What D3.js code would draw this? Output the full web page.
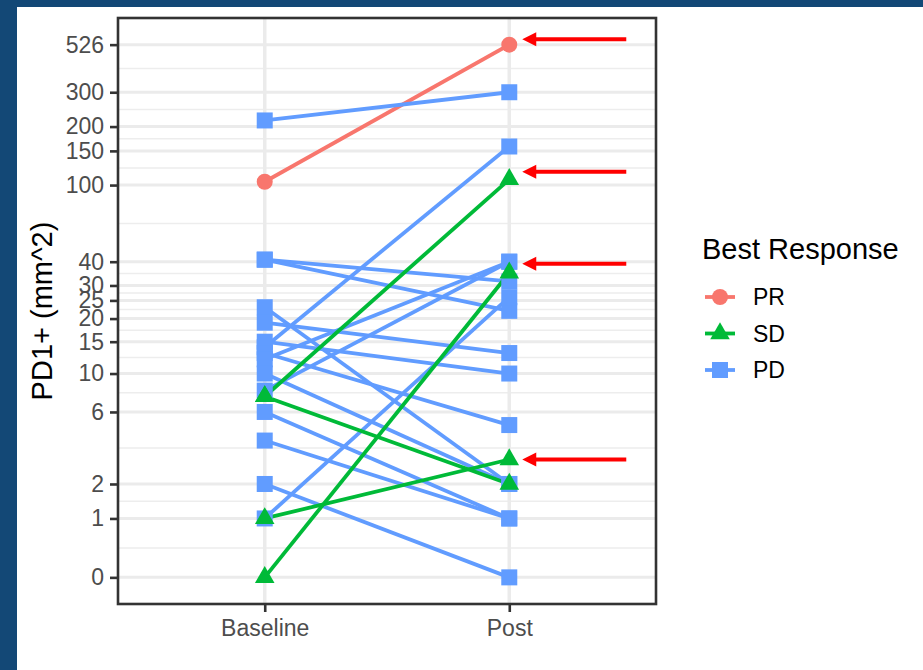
<!DOCTYPE html>
<html>
	<head>
		<meta charset="utf-8">
		<title>PD1+ spaghetti plot</title>
		<style>
			body { margin: 0; background: #134876; }
			svg { display: block; }
			text { font-family: "Liberation Sans", Arial, sans-serif; }
		</style>
	</head>
	<body>
		<div id="chart"></div>

		<script src="https://cdn.jsdelivr.net/npm/d3@7"></script>
		<script>
			// data
			var timepoints = ["Baseline", "Post"];
			var responses = ["PR", "SD", "PD"];
			var responseColors = ["#F8766D", "#00BA38", "#619CFF"];

			var patientResponse = ["PR", "PD", "PD", "PD", "PD", "PD", "PD", "PD", "PD", "PD", "PD", "PD", "PD", "PD", "PD", "PD", "SD", "SD", "SD", "SD"];
			var baselineValues  = [104, 215, 14, 41, 41, 23, 19, 15, 13, 12, 8, 10, 6, 4, 2, 1, 7.4, 7.4, 1, 0];
			var postValues      = [526, 300, 158, 31.5, 22, 2, 13, 10, 5, 40, 40, 2, 1, 1, 0, 26, 107, 2, 3, 35];

			var yTickValues = [0, 1, 2, 6, 10, 15, 20, 25, 30, 40, 100, 150, 200, 300, 526];
			var arrowValues = [561, 117, 39, 3];

			(function(){
				"use strict";

				var W = 923, H = 670,
					left = 118, right = 656, top = 18, bottom = 604;

				var svg = d3.select("#chart").append("svg")
					.attr("width", W)
					.attr("height", H);

				// blue frame + white page
				svg.append("rect")
					.attr("x", 17).attr("y", 7)
					.attr("width", W - 17).attr("height", H - 7)
					.attr("fill", "#ffffff");

				// log10(1 + x) transform, like scale_y_continuous(trans = "log1p") in log10 units
				var t = function(v){ return Math.log10(1 + v); };
				var allValues = baselineValues.concat(postValues);
				var tExt = d3.extent(allValues.map(t));
				var pad = (tExt[1] - tExt[0]) * 0.05;

				var y = d3.scaleLinear()
					.domain([tExt[0] - pad, tExt[1] + pad])
					.range([bottom, top]);
				var yv = function(v){ return y(t(v)); };

				var x = d3.scalePoint()
					.domain(timepoints)
					.range([left, right])
					.padding(0.6);

				var color = d3.scaleOrdinal().domain(responses).range(responseColors);

				// grid
				var tTicks = yTickValues.map(t);
				var minor = [];
				for (var i = 0; i < tTicks.length - 1; i++) minor.push((tTicks[i] + tTicks[i + 1]) / 2);

				var grid = svg.append("g");
				grid.selectAll("line.minor")
					.data(minor)
					.enter().append("line")
						.attr("x1", left).attr("x2", right)
						.attr("y1", function(d){ return y(d); })
						.attr("y2", function(d){ return y(d); })
						.attr("stroke", "#ededed")
						.attr("stroke-width", 1.5);
				grid.selectAll("line.major")
					.data(yTickValues)
					.enter().append("line")
						.attr("x1", left).attr("x2", right)
						.attr("y1", function(d){ return yv(d); })
						.attr("y2", function(d){ return yv(d); })
						.attr("stroke", "#ebebeb")
						.attr("stroke-width", 3);
				grid.selectAll("line.vert")
					.data(timepoints)
					.enter().append("line")
						.attr("x1", function(d){ return x(d); })
						.attr("x2", function(d){ return x(d); })
						.attr("y1", top).attr("y2", bottom)
						.attr("stroke", "#ebebeb")
						.attr("stroke-width", 3.5);

				// patient lines
				var patients = baselineValues.map(function(b, i){
					return { resp: patientResponse[i], values: [b, postValues[i]] };
				});
				var order = ["PR", "PD", "SD"];
				var sorted = order.map(function(r){
					return patients.filter(function(p){ return p.resp === r; });
				});
				sorted = [].concat.apply([], sorted);

				var line = d3.line()
					.x(function(d, i){ return x(timepoints[i]); })
					.y(function(d){ return yv(d); });

				svg.append("g").selectAll("path")
					.data(sorted)
					.enter().append("path")
						.attr("d", function(d){ return line(d.values); })
						.attr("fill", "none")
						.attr("stroke", function(d){ return color(d.resp); })
						.attr("stroke-width", 3.8);

				// point shapes: circle, triangle, square
				function shape(g, resp){
					var c = color(resp);
					if (resp === "PR") {
						g.append("circle").attr("r", 8).attr("fill", c);
					} else if (resp === "SD") {
						var r = 11.3;
						g.append("path")
							.attr("d", "M0," + (-r) + "L" + (0.866 * r) + "," + (r / 2) + "L" + (-0.866 * r) + "," + (r / 2) + "Z")
							.attr("fill", c);
					} else {
						g.append("rect").attr("x", -8).attr("y", -8).attr("width", 16).attr("height", 16).attr("fill", c);
					}
				}

				var pts = svg.append("g");
				sorted.forEach(function(p){
					p.values.forEach(function(v, i){
						var g = pts.append("g")
							.attr("transform", "translate(" + x(timepoints[i]) + "," + yv(v) + ")");
						shape(g, p.resp);
					});
				});

				// panel border
				svg.append("rect")
					.attr("x", left).attr("y", top)
					.attr("width", right - left).attr("height", bottom - top)
					.attr("fill", "none")
					.attr("stroke", "#333333")
					.attr("stroke-width", 2.6);

				// axes
				var yAxis = svg.append("g")
					.attr("transform", "translate(" + left + ",0)")
					.call(d3.axisLeft(y).tickValues(tTicks).tickFormat(function(d, i){ return yTickValues[i]; })
						.tickSize(8).tickPadding(6));
				var xAxis = svg.append("g")
					.attr("transform", "translate(0," + bottom + ")")
					.call(d3.axisBottom(x).tickSize(8).tickPadding(6));

				[yAxis, xAxis].forEach(function(a){
					a.select(".domain").remove();
					a.selectAll(".tick line").attr("stroke", "#333333").attr("stroke-width", 2.6);
					a.selectAll(".tick text")
						.attr("fill", "#4d4d4d")
						.style("font-size", "23px")
						.style("font-family", "'Liberation Sans', Arial, sans-serif");
				});
				xAxis.selectAll(".tick text").attr("dy", "0.8em");

				svg.append("text")
					.attr("transform", "translate(52," + ((top + bottom) / 2) + ") rotate(-90)")
					.attr("text-anchor", "middle")
					.style("font-size", "29px")
					.attr("fill", "#000000")
					.text("PD1+ (mm^2)");

				// red arrows
				var arrows = svg.append("g");
				arrowValues.forEach(function(v){
					var ay = yv(v), tip = x("Post") + 13;
					arrows.append("line")
						.attr("x1", tip + 12).attr("x2", tip + 104)
						.attr("y1", ay).attr("y2", ay)
						.attr("stroke", "#ff0000")
						.attr("stroke-width", 4);
					arrows.append("path")
						.attr("d", "M" + tip + "," + ay + "L" + (tip + 14) + "," + (ay - 7) + "L" + (tip + 14) + "," + (ay + 7) + "Z")
						.attr("fill", "#ff0000");
				});

				// legend
				var legend = svg.append("g").attr("transform", "translate(702,0)");
				legend.append("text")
					.attr("x", 0).attr("y", 259)
					.style("font-size", "29px")
					.attr("fill", "#000000")
					.text("Best Response");

				var keys = legend.selectAll("g.key")
					.data(responses)
					.enter().append("g")
						.attr("class", "key")
						.attr("transform", function(d, i){ return "translate(18," + (297 + i * 36.5) + ")"; });
				keys.append("line")
					.attr("x1", -15).attr("x2", 15)
					.attr("stroke", function(d){ return color(d); })
					.attr("stroke-width", 3.8);
				keys.each(function(d){ shape(d3.select(this), d); });
				keys.append("text")
					.attr("x", 33).attr("dy", "0.36em")
					.style("font-size", "23px")
					.attr("fill", "#000000")
					.text(function(d){ return d; });
			})();
		</script>
	</body>
</html>
